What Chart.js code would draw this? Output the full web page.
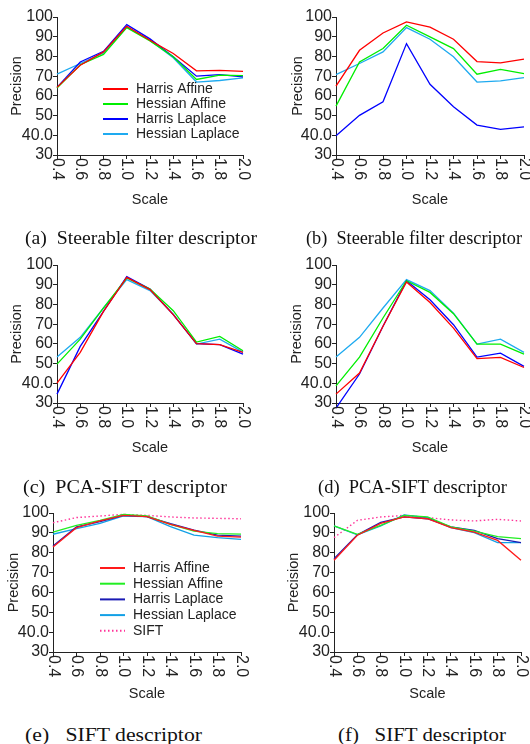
<!DOCTYPE html>
<html>
<head>
<meta charset="utf-8">
<script src="https://cdn.jsdelivr.net/npm/chart.js@4.4.1/dist/chart.umd.min.js"></script>
<style>
  body { margin: 0; background: #fff; width: 530px; height: 744px; position: relative; overflow: hidden; }
  canvas { position: absolute; }
  .cap { position: absolute; font-family: "Liberation Serif", "Times New Roman", serif; font-size: 18.5px;
         color: #111; white-space: nowrap; line-height: 22px; transform-origin: 0 50%; }
</style>
</head>
<body>
<canvas id="ca" width="265" height="215" style="left:0;top:0"></canvas>
<canvas id="cb" width="265" height="215" style="left:265px;top:0"></canvas>
<canvas id="cc" width="265" height="215" style="left:0;top:248px"></canvas>
<canvas id="cd" width="265" height="215" style="left:265px;top:248px"></canvas>
<canvas id="ce" width="265" height="213" style="left:0;top:496px"></canvas>
<canvas id="cf" width="265" height="213" style="left:265px;top:496px"></canvas>

<div class="cap" data-w="232" style="left:25px;top:227px">(a)&nbsp; Steerable filter descriptor</div>
<div class="cap" data-w="216" style="left:306px;top:227px">(b)&nbsp; Steerable filter descriptor</div>
<div class="cap" data-w="204" style="left:23px;top:476px">(c)&nbsp; PCA-SIFT descriptor</div>
<div class="cap" data-w="189" style="left:318px;top:476px">(d)&nbsp; PCA-SIFT descriptor</div>
<div class="cap" data-w="177" style="left:25px;top:724px">(e)&nbsp;&nbsp; SIFT descriptor</div>
<div class="cap" data-w="168" style="left:338px;top:724px">(f)&nbsp;&nbsp; SIFT descriptor</div>

<script>
const scaleLabels = ['0.4', '0.6', '0.8', '1.0', '1.2', '1.4', '1.6', '1.8', '2.0'];
const yTicks = [30, 40, 50, 60, 70, 80, 90, 100];
const seriesNames = ['Harris Affine', 'Hessian Affine', 'Harris Laplace', 'Hessian Laplace', 'SIFT'];

// (a) steerable filter
const aHarrisAffine   = [64.3, 75.5, 82.3, 95.3, 88.2, 81.5, 72.7, 72.9, 72.4];
const aHessianAffine  = [64.0, 75.8, 81.0, 94.6, 87.9, 79.8, 68.3, 70.5, 70.3];
const aHarrisLaplace  = [64.3, 77.2, 82.6, 96.1, 88.9, 79.8, 70.0, 70.8, 69.6];
const aHessianLaplace = [71.0, 76.4, 81.8, 94.9, 88.2, 79.3, 67.0, 67.8, 69.1];
// (b) steerable filter
const bHarrisAffine   = [64.9, 83.1, 91.9, 97.5, 94.9, 88.7, 77.4, 76.7, 78.6];
const bHessianAffine  = [54.8, 77.2, 84.0, 95.8, 89.9, 84.0, 71.0, 73.4, 71.3];
const bHarrisLaplace  = [39.8, 50.1, 57.0, 86.5, 65.9, 54.5, 45.2, 43.0, 44.3];
const bHessianLaplace = [70.8, 76.4, 82.3, 94.6, 88.7, 79.8, 67.0, 67.6, 69.3];
// (c) PCA-SIFT
const cHarrisAffine   = [40.1, 55.7, 76.5, 93.7, 87.5, 74.8, 60.1, 59.6, 55.7];
const cHessianAffine  = [49.7, 62.4, 78.2, 93.4, 87.8, 76.8, 60.9, 63.8, 56.5];
const cHarrisLaplace  = [34.5, 58.7, 76.5, 94.1, 87.8, 74.8, 60.1, 59.6, 54.8];
const cHessianLaplace = [53.3, 63.3, 78.2, 92.6, 87.0, 75.1, 59.9, 62.4, 55.8];
// (d) PCA-SIFT
const dHarrisAffine   = [34.5, 45.2, 68.9, 91.4, 81.0, 68.0, 52.5, 53.1, 48.0];
const dHessianAffine  = [38.7, 53.3, 73.1, 92.0, 86.1, 75.3, 59.9, 59.9, 54.8];
const dHarrisLaplace  = [27.4, 44.7, 68.9, 92.0, 82.4, 69.7, 53.3, 55.3, 48.6];
const dHessianLaplace = [53.3, 63.3, 78.2, 92.6, 87.0, 75.6, 59.9, 62.4, 55.7];
// (e) SIFT
const eHarrisAffine   = [82.9, 92.6, 96.0, 98.8, 98.2, 94.3, 91.3, 88.4, 87.9];
const eHessianAffine  = [90.4, 93.8, 96.3, 99.3, 98.5, 94.3, 90.9, 89.6, 89.4];
const eHarrisLaplace  = [83.4, 93.0, 95.6, 98.8, 98.2, 94.6, 91.4, 88.9, 88.4];
const eHessianLaplace = [89.3, 92.1, 94.8, 98.5, 98.2, 93.1, 88.9, 87.6, 86.7];
const eSift           = [95.1, 97.7, 98.5, 99.3, 98.8, 98.0, 97.5, 97.3, 97.1];
// (f) SIFT
const fHarrisAffine   = [76.2, 88.8, 94.8, 98.0, 97.1, 92.6, 90.4, 86.2, 76.2];
const fHessianAffine  = [93.5, 89.3, 93.8, 98.8, 98.0, 93.0, 90.9, 88.1, 87.1];
const fHarrisLaplace  = [77.0, 89.0, 95.3, 98.0, 97.1, 93.0, 91.3, 87.1, 85.1];
const fHessianLaplace = [93.5, 89.0, 93.5, 99.0, 97.7, 92.6, 90.1, 85.1, 85.1];
const fSift           = [87.6, 96.3, 98.0, 98.8, 97.7, 96.5, 96.0, 96.8, 96.0];

const FONT = '"Liberation Sans", Arial, sans-serif';
const colorsAD = ['#ff0000', '#00ee00', '#0000ff', '#1eaaf0'];
const colorsEF = ['#ff1a1a', '#22ee22', '#1a1ab4', '#12a0e6', '#ff3399'];

// x tick labels in the reference read top to bottom, so draw them here
const rotatedTicks = {
  id: 'rotatedTicks',
  afterDraw(chart) {
    const { ctx, chartArea } = chart;
    const x = chart.scales.x;
    ctx.save();
    ctx.font = '16px ' + FONT;
    ctx.fillStyle = '#222';
    ctx.textAlign = 'left';
    ctx.textBaseline = 'middle';
    x.ticks.forEach((t, i) => {
      ctx.save();
      ctx.translate(x.getPixelForTick(i), chartArea.bottom + 3);
      ctx.rotate(Math.PI / 2);
      ctx.fillText(x.getLabelForValue(t.value), 0, 0);
      ctx.restore();
    });
    ctx.restore();
  }
};

// legend placed inside the plot
const innerLegend = {
  id: 'innerLegend',
  afterDraw(chart, args, opts) {
    if (!opts.show) return;
    const ctx = chart.ctx;
    ctx.save();
    ctx.font = '14px ' + FONT;
    ctx.textBaseline = 'middle';
    chart.data.datasets.forEach((ds, i) => {
      const y = opts.y + i * opts.step;
      ctx.strokeStyle = ds.borderColor;
      ctx.lineWidth = 2;
      ctx.setLineDash(ds.borderDash || []);
      ctx.beginPath();
      ctx.moveTo(opts.x, y);
      ctx.lineTo(opts.x + 25, y);
      ctx.stroke();
      ctx.setLineDash([]);
      ctx.fillStyle = '#222';
      ctx.fillText(ds.label, opts.x + 33, y);
    });
    ctx.restore();
  }
};

function makeChart(id, series, colors, lay, legend) {
  const datasets = series.map((data, i) => ({
    label: seriesNames[i],
    data: data,
    borderColor: colors[i],
    borderWidth: i === 4 ? 1.4 : 1.3,
    borderDash: i === 4 ? [1.5, 2.5] : [],
    pointRadius: 0,
    tension: 0,
    fill: false,
    clip: false
  }));
  new Chart(document.getElementById(id), {
    type: 'line',
    data: { labels: scaleLabels, datasets: datasets },
    plugins: [rotatedTicks, innerLegend],
    options: {
      responsive: false,
      animation: false,
      layout: { padding: { top: 17, right: lay.right, left: 0, bottom: 0 } },
      plugins: {
        legend: { display: false },
        tooltip: { enabled: false },
        innerLegend: legend || { show: false }
      },
      scales: {
        x: {
          offset: false,
          grid: { drawOnChartArea: false, tickLength: 4, color: '#222' },
          border: { color: '#222', width: 1 },
          ticks: { display: false },
          title: { display: true, text: 'Scale', color: '#222', font: { family: FONT, size: 14.5 }, padding: 6.3 },
          afterFit: s => { s.height = lay.xh; }
        },
        y: {
          min: 30,
          max: 100,
          afterBuildTicks: s => { s.ticks = yTicks.map(v => ({ value: v })); },
          grid: { drawOnChartArea: false, tickLength: 4, color: '#222' },
          border: { color: '#222', width: 1 },
          ticks: {
            autoSkip: false,
            padding: 0,
            color: '#222',
            font: { family: FONT, size: 16 },
            callback: v => (v === 40 ? '40.0' : String(v))
          },
          title: { display: true, text: 'Precision', color: '#222', font: { family: FONT, size: 14.5 }, padding: lay.tp },
          afterFit: s => { s.width = lay.yw; }
        }
      }
    }
  });
}

makeChart('ca', [aHarrisAffine, aHessianAffine, aHarrisLaplace, aHessianLaplace], colorsAD,
  { yw: 57, right: 22, xh: 60, tp: 8.3 }, { show: true, x: 103, y: 89, step: 15 });
makeChart('cb', [bHarrisAffine, bHessianAffine, bHarrisLaplace, bHessianLaplace], colorsAD,
  { yw: 71, right: 6, xh: 60, tp: 24.3 });
makeChart('cc', [cHarrisAffine, cHessianAffine, cHarrisLaplace, cHessianLaplace], colorsAD,
  { yw: 57, right: 22, xh: 60, tp: 8.3 });
makeChart('cd', [dHarrisAffine, dHessianAffine, dHarrisLaplace, dHessianLaplace], colorsAD,
  { yw: 71, right: 6, xh: 60, tp: 23.3 });
makeChart('ce', [eHarrisAffine, eHessianAffine, eHarrisLaplace, eHessianLaplace, eSift], colorsEF,
  { yw: 53, right: 24, xh: 57, tp: 5.3 }, { show: true, x: 100, y: 72, step: 15.7 });
makeChart('cf', [fHarrisAffine, fHessianAffine, fHarrisLaplace, fHessianLaplace, fSift], colorsEF,
  { yw: 69, right: 9, xh: 57, tp: 20.3 });

// stretch each caption to the width it has in the reference
document.querySelectorAll('.cap').forEach(el => {
  const w = el.getBoundingClientRect().width;
  el.style.transform = 'scaleX(' + (Number(el.dataset.w) / w) + ')';
});
</script>
</body>
</html>
